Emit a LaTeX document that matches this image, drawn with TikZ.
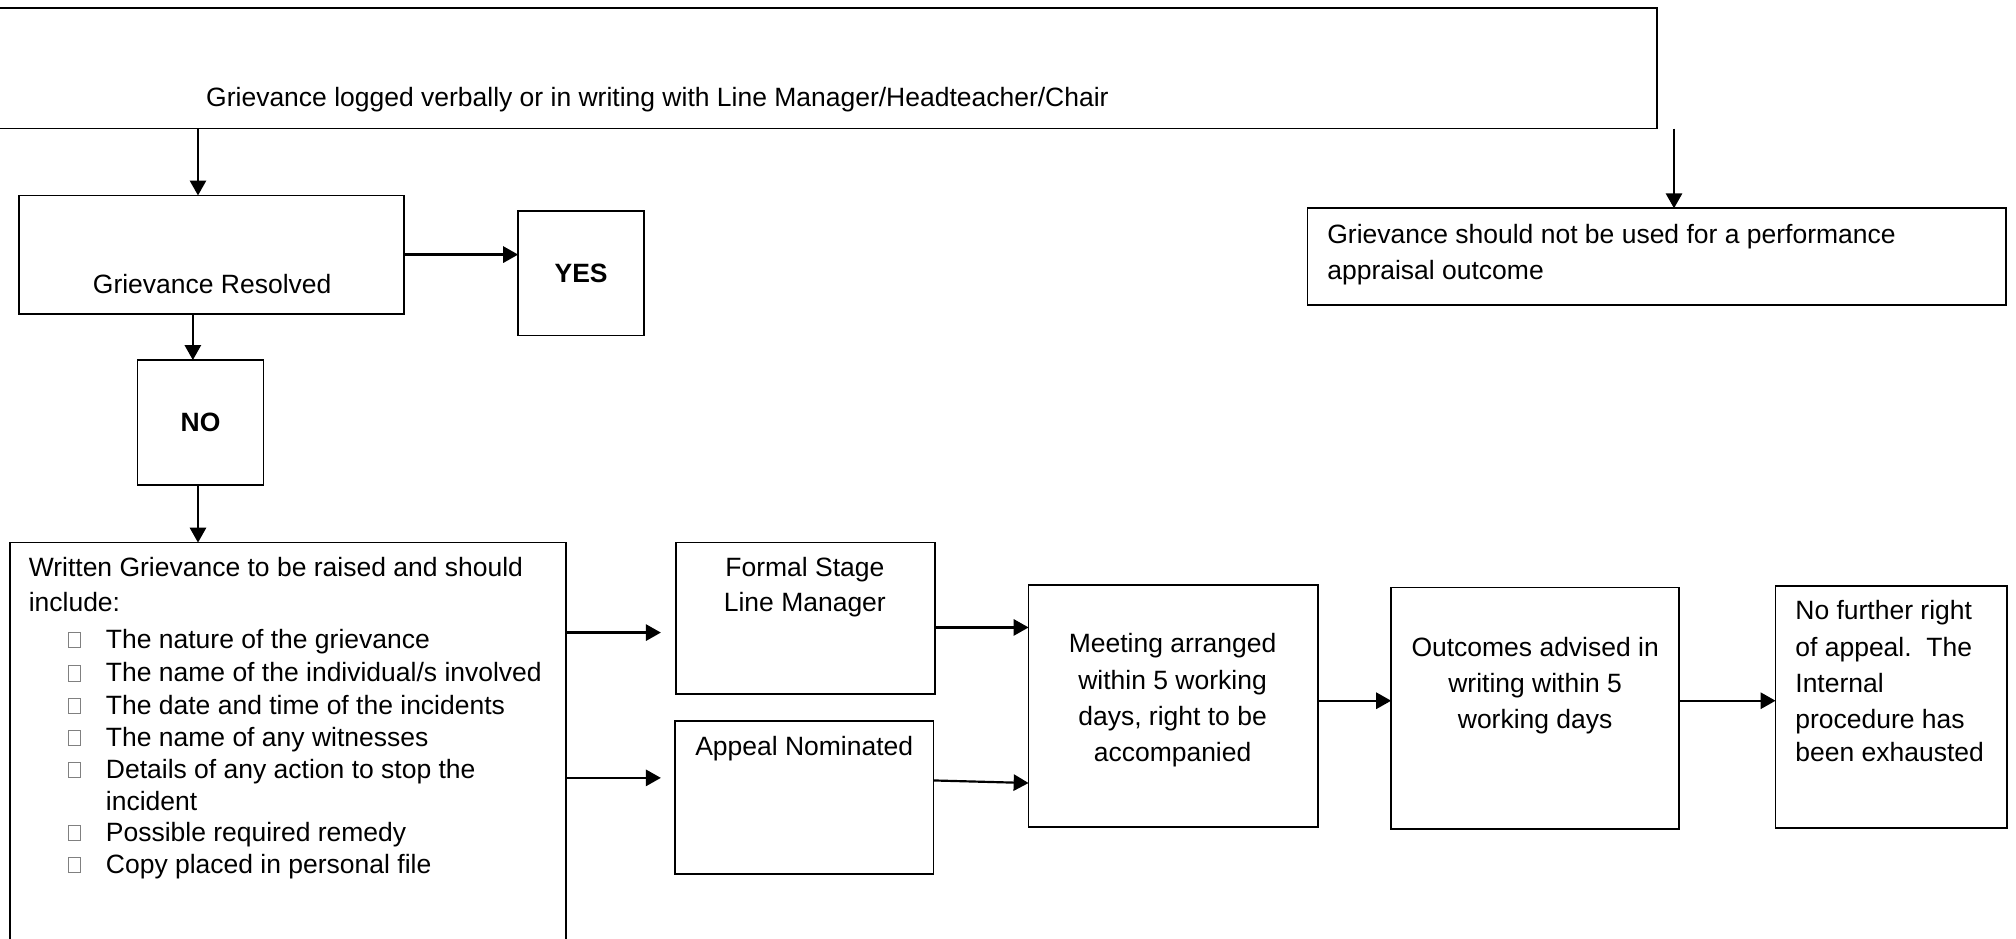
\documentclass[tikz,border=0pt]{standalone}
\usepackage{fontspec}
\setmainfont{Liberation Sans}
\usetikzlibrary{arrows.meta,fit}
\newcommand\myfs{\fontsize{10.3}{12.5}\selectfont}
\begin{document}
\begin{tikzpicture}[x=0.5pt,y=-0.5pt,
  box/.style={draw, line width=0.7pt, inner sep=0pt, outer sep=0pt},
  arr/.style={line width=0.85pt, -{Triangle[length=5.8pt,width=6.3pt]}},
  ltxt/.style={font=\myfs, inner sep=0pt, anchor=base west},
  ctxt/.style={font=\myfs, inner sep=0pt, anchor=base},
  btxt/.style={font=\myfs\bfseries, inner sep=0pt, anchor=base},
  bul/.style={draw=gray, line width=0.3pt, minimum width=4.5pt, minimum height=6pt, inner sep=0pt}
]
\useasboundingbox (0,0) rectangle (1568,730);
% boxes
\node[box, fit={(-20,6) (1289,100)}] (top) {};
\node[box, fit={(15,152) (314,244)}] (gr) {};
\node[box, fit={(403,164) (501,261)}] (yes) {};
\node[box, fit={(107,280) (205,377)}] (no) {};
\node[box, fit={(1017,162) (1560,237)}] (perf) {};
\node[box, fit={(8,422) (440,770)}] (wr) {};
\node[box, fit={(526,422) (727,540)}] (fs) {};
\node[box, fit={(525,561) (726,680)}] (ap) {};
\node[box, fit={(800,455) (1025,643)}] (mt) {};
\node[box, fit={(1082,457) (1306,645)}] (oc) {};
\node[box, fit={(1381,456) (1561,644)}] (nf) {};
% texts
\node[ltxt] (top-t) at (160,82.5) {Grievance logged verbally or in writing with Line Manager/Headteacher/Chair};
\node[ctxt] (gr-t) at (165,228.5) {Grievance Resolved};
\node[btxt] (yes-t) at (452,219.5) {YES};
\node[btxt] (no-t) at (156,335.5) {NO};
\node[ltxt] (perf-t1) at (1032,189.5) {Grievance should not be used for a performance};
\node[ltxt] (perf-t2) at (1032,217.5) {appraisal outcome};
\node[ltxt] (wr-t1) at (22,448.5) {Written Grievance to be raised and should};
\node[ltxt] (wr-t2) at (22,475.5) {include:};
\node[ltxt] (wr-b1) at (82,504) {The nature of the grievance};
\node[ltxt] (wr-b2) at (82,530) {The name of the individual/s involved};
\node[ltxt] (wr-b3) at (82,555.5) {The date and time of the incidents};
\node[ltxt] (wr-b4) at (82,580.5) {The name of any witnesses};
\node[ltxt] (wr-b5) at (82,605.5) {Details of any action to stop the};
\node[ltxt] (wr-b5b) at (82,630) {incident};
\node[ltxt] (wr-b6) at (82,654.5) {Possible required remedy};
\node[ltxt] (wr-b7) at (82,679) {Copy placed in personal file};
\node[bul] (q1) at (58,497.7) {};
\node[bul] (q2) at (58,523.6) {};
\node[bul] (q3) at (58,548.8) {};
\node[bul] (q4) at (58,574) {};
\node[bul] (q5) at (58,598.8) {};
\node[bul] (q6) at (58,648) {};
\node[bul] (q7) at (58,672.7) {};
\node[ctxt] (fs-t1) at (626,448.5) {Formal Stage};
\node[ctxt] (fs-t2) at (626,475.5) {Line Manager};
\node[ctxt] (ap-t) at (625.5,587.5) {Appeal Nominated};
\node[ctxt] (mt-t1) at (912,507.5) {Meeting arranged};
\node[ctxt] (mt-t2) at (912,536.5) {within 5 working};
\node[ctxt] (mt-t3) at (912,564.5) {days, right to be};
\node[ctxt] (mt-t4) at (912,592.5) {accompanied};
\node[ctxt] (oc-t1) at (1194,510.5) {Outcomes advised in};
\node[ctxt] (oc-t2) at (1194,538.5) {writing within 5};
\node[ctxt] (oc-t3) at (1194,566.5) {working days};
\node[ltxt] (nf-t1) at (1396,481.5) {No further right};
\node[ltxt] (nf-t2) at (1396,510.5) {of appeal.\ \ The};
\node[ltxt] (nf-t3) at (1396,538.5) {Internal};
\node[ltxt] (nf-t4) at (1396,566.5) {procedure has};
\node[ltxt] (nf-t5) at (1396,592.5) {been exhausted};
% connectors
\coordinate (rstart) at (1302,100);
\coordinate (e1) at (514,492);
\coordinate (e2) at (514,605);
\draw[arr] (top.south -| 154,0) -- (gr.north -| 154,0);
\draw[arr] (rstart) -- (perf.north -| rstart);
\draw[arr] (gr.east) -- (gr.east -| yes.west);
\draw[arr] (gr.south -| 150,0) -- (no.north -| 150,0);
\draw[arr] (no.south -| 154,0) -- (wr.north -| 154,0);
\draw[arr] (wr.east |- e1) -- (e1);
\draw[arr] (wr.east |- e2) -- (e2);
\draw[arr] (fs.east |- 0,488) -- (mt.west |- 0,488);
\draw[arr] (ap.east |- 0,607) -- (mt.west |- 0,609);
\draw[arr] (mt.east |- 0,545) -- (oc.west |- 0,545);
\draw[arr] (oc.east |- 0,545) -- (nf.west |- 0,545);
\end{tikzpicture}
\end{document}
